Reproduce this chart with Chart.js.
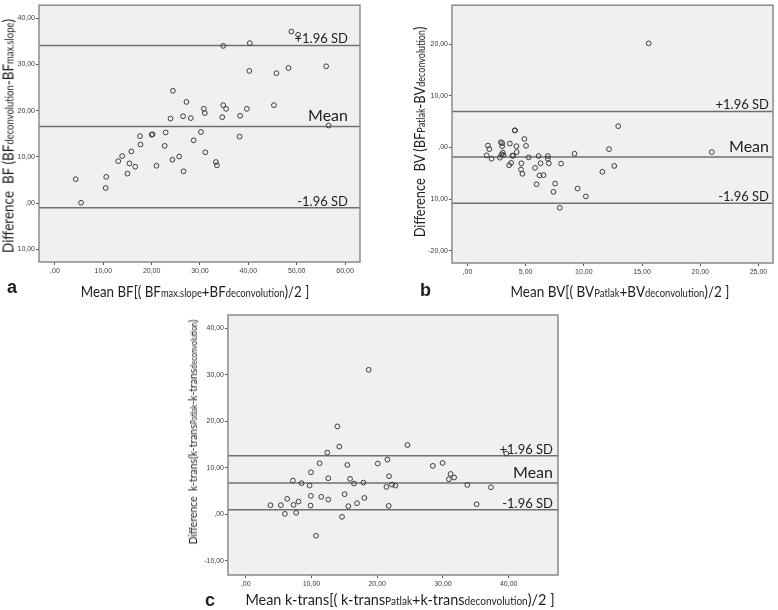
<!DOCTYPE html>
<html>
<head>
<meta charset="utf-8">
<script src="https://cdn.jsdelivr.net/npm/chart.js@4"></script>
<style>
  body { margin: 0; background: #fff; }
  #figure { position: relative; width: 778px; height: 610px; overflow: hidden; font-family: Lato, "Open Sans", sans-serif; color: #1e1e1e; }
  .panel { position: absolute; }
  .xtitle, .ytitle, .letter { position: absolute; white-space: nowrap; line-height: 1; }
  .xtitle { transform: translate(-50%, -50%) scaleX(var(--sx)); font-size: 15px; }
  .ytitle { transform: translate(-50%, -50%) rotate(-90deg) scaleX(var(--sx)); font-size: 15px; }
  .s { font-size: 10.5px; }
  .ytitle.small { font-size: 12px; }
  .ytitle.small .s { font-size: 8.5px; }
  .letter { font-family: "Liberation Sans", Arial, sans-serif; font-weight: bold; font-size: 18px; transform: translateY(-50%); }
</style>
</head>
<body>
<div id="figure">
  <div class="panel" style="left:0;top:0"><canvas id="chartA" width="380" height="300"></canvas></div>
  <div class="panel" style="left:380px;top:0"><canvas id="chartB" width="398" height="300"></canvas></div>
  <div class="panel" style="left:180px;top:300px"><canvas id="chartC" width="400" height="310"></canvas></div>

  <div class="ytitle" style="left:8px;top:136px;--sx:0.9">Difference&nbsp; BF (BF<span class="s">deconvolution</span>-BF<span class="s">max.slope</span>)</div>
  <div class="xtitle" style="left:195px;top:291px;--sx:0.89">Mean BF[( BF<span class="s">max.slope</span>+BF<span class="s">deconvolution</span>)/2 ]</div>
  <div class="letter" style="left:7px;top:287px">a</div>

  <div class="ytitle" style="left:419px;top:132px;--sx:0.86">Difference&nbsp; BV (BF<span class="s">Patlak</span>-BV<span class="s">deconvolution</span>)</div>
  <div class="xtitle" style="left:620px;top:291px;--sx:0.9">Mean BV[( BV<span class="s">Patlak</span>+BV<span class="s">deconvolution</span>)/2 ]</div>
  <div class="letter" style="left:420px;top:290px">b</div>

  <div class="ytitle small" style="left:193px;top:432px;--sx:0.87">Difference&nbsp; k-trans(k-trans<span class="s">Patlak</span>-k-trans<span class="s">deconvolution</span>)</div>
  <div class="xtitle" style="left:400px;top:599px;--sx:0.96">Mean k-trans[( k-trans<span class="s">Patlak</span>+k-trans<span class="s">deconvolution</span>)/2 ]</div>
  <div class="letter" style="left:205px;top:600px">c</div>
</div>

<script>
// Panel a: BF
const bfMean = [4.3, 5.4, 10.6, 10.5, 13.1, 13.9, 15.0, 15.4, 15.8, 16.6, 17.6, 17.7, 20.0, 20.2, 21.0, 22.7, 22.9, 23.9,
  24.4, 24.3, 25.7, 26.5, 26.6, 27.2, 28.1, 28.7, 30.2, 30.8, 31.0, 31.1, 33.3, 33.5, 34.6, 34.8, 35.4, 34.8,
  38.3, 38.2, 39.7, 40.2, 40.3, 45.3, 45.8, 48.3, 48.9, 50.3, 56.1, 56.6];
const bfDiff = [5.2, 0.1, 5.7, 3.3, 9.1, 10.2, 6.4, 8.6, 11.2, 7.9, 14.5, 12.7, 14.8, 14.9, 8.1, 12.4, 15.3, 18.3,
  24.3, 9.4, 10.1, 18.8, 6.9, 21.9, 18.4, 13.6, 15.4, 20.4, 19.5, 11.0, 8.9, 8.2, 18.6, 21.2, 20.4, 34.0,
  18.9, 14.4, 20.4, 28.6, 34.6, 21.2, 28.1, 29.2, 37.1, 36.4, 29.6, 16.8];
const bfLimits = [34.1, 16.6, -1.0];
const bfXTicks = [0, 10, 20, 30, 40, 50, 60];
const bfXTickLabels = [",00", "10,00", "20,00", "30,00", "40,00", "50,00", "60,00"];
const bfYTicks = [40, 30, 20, 10, 0, -10];
const bfYTickLabels = ["40,00", "30,00", "20,00", "10,00", ",00", "10,00"];

// Panel b: BV
const bvMean = [1.65, 1.76, 1.88, 2.07, 2.78, 2.87, 2.98, 2.98, 2.93, 3.04, 3.10, 3.64, 3.75, 3.58, 3.86, 3.92,
  4.06, 4.08, 4.20, 4.23, 4.89, 5.03, 4.63, 4.60, 4.72, 5.26, 5.80, 5.94, 6.11, 6.28, 6.19, 6.53, 6.90, 6.90,
  6.99, 7.39, 7.53, 7.93, 8.04, 9.20, 9.46, 10.17, 11.59, 12.16, 12.61, 12.95, 15.57, 20.99];
const bvDiff = [-1.53, 0.38, -0.32, -2.17, -1.97, 1.02, 0.83, 0.25, -1.34, -1.02, -1.46, 0.76, -2.99, -3.44, -1.59, -1.59,
  3.31, 3.33, 0.25, -0.89, 1.66, 0.32, -3.06, -4.27, -5.10, -1.91, -3.95, -7.13, -1.66, -3.06, -5.41, -5.35, -1.66, -2.17,
  -3.06, -8.60, -7.00, -11.70, -3.12, -1.21, -7.96, -9.49, -4.71, -0.32, -3.57, 4.14, 20.20, -0.89];
const bvLimits = [7.0, -1.85, -10.8];
const bvXTicks = [0, 5, 10, 15, 20, 25];
const bvXTickLabels = [",00", "5,00", "10,00", "15,00", "20,00", "25,00"];
const bvYTicks = [20, 10, 0, -10, -20];
const bvYTickLabels = ["20,00", "10,00", ",00", "10,00", "-20,00"];

// Panel c: k-trans
const ktMean = [3.76, 5.34, 5.95, 6.30, 7.17, 7.27, 7.67, 8.03, 8.49, 9.71, 9.91, 9.91, 9.86, 10.67, 11.23, 11.49,
  12.40, 12.55, 12.55, 13.93, 14.23, 14.64, 15.04, 15.45, 15.60, 15.86, 16.47, 16.92, 17.90, 18.04, 18.70, 20.08,
  21.40, 21.55, 21.80, 21.75, 22.26, 22.77, 24.60, 28.46, 29.94, 30.90, 31.16, 31.70, 33.70, 35.12, 37.30, 39.64];
const ktDiff = [1.94, 1.94, 0.07, 3.30, 7.24, 2.00, 0.29, 2.72, 6.67, 6.16, 9.03, 3.94, 1.86, -4.66, 10.97, 3.73,
  13.26, 7.74, 3.15, 18.90, 14.55, -0.57, 4.30, 10.60, 1.72, 7.60, 6.60, 2.37, 6.80, 3.50, 31.10, 10.90,
  5.88, 11.76, 8.17, 1.79, 6.38, 6.16, 14.90, 10.40, 11.04, 7.53, 8.67, 7.90, 6.30, 2.15, 5.80, 13.05];
const ktLimits = [12.6, 6.7, 0.93];
const ktXTicks = [0, 10, 20, 30, 40];
const ktXTickLabels = [",00", "10,00", "20,00", "30,00", "40,00"];
const ktYTicks = [40, 30, 20, 10, 0, -10];
const ktYTickLabels = ["40,00", "30,00", "20,00", "10,00", ",00", "-10,00"];

const limitLabels = ["+1.96 SD", "Mean", "-1.96 SD"];

// Plot frame, grey background and limit labels
const framePlugin = {
  id: "frame",
  beforeDraw(chart) {
    const { ctx, chartArea: a } = chart;
    ctx.save();
    ctx.fillStyle = "#f0f0f0";
    ctx.fillRect(a.left, a.top, a.right - a.left, a.bottom - a.top);
    ctx.restore();
  },
  afterDraw(chart, args, opts) {
    const { ctx, chartArea: a } = chart;
    const yScale = chart.scales.y;
    ctx.save();
    ctx.strokeStyle = "#8a8a8a";
    ctx.lineWidth = 1.5;
    ctx.strokeRect(a.left, a.top, a.right - a.left, a.bottom - a.top);

    ctx.fillStyle = "#1e1e1e";
    ctx.textAlign = "right";
    ctx.textBaseline = "alphabetic";
    opts.limits.forEach((v, i) => {
      const big = limitLabels[i] === "Mean";
      ctx.font = (big ? "16px" : "13px") + " Lato, 'Open Sans', sans-serif";
      ctx.fillText(limitLabels[i], a.right - opts.inset, yScale.getPixelForValue(v) - (big ? 5 : 2));
    });
    ctx.restore();
  }
};

function tickAxis(ticks, labels, range, fitSize, isX) {
  return {
    type: "linear",
    min: range[0],
    max: range[1],
    afterBuildTicks: (scale) => { scale.ticks = ticks.map(v => ({ value: v })); },
    afterFit: (scale) => { if (isX) scale.height = fitSize; else scale.width = fitSize; },
    ticks: {
      autoSkip: false,
      maxRotation: 0,
      padding: isX ? 2 : 1,
      color: "#3a3a3a",
      font: { size: 7, family: "'Liberation Sans', Arial, sans-serif" },
      callback: (v) => { const i = ticks.indexOf(v); return i >= 0 ? labels[i] : ""; }
    },
    grid: { display: true, drawOnChartArea: false, drawTicks: true, tickLength: 3, tickColor: "#555", color: "#555" },
    border: { display: false }
  };
}

function makeBlandAltman(id, p) {
  const points = p.mean.map((m, i) => ({ x: m, y: p.diff[i] }));
  const lines = p.limits.map(v => ({
    data: [{ x: p.xRange[0], y: v }, { x: p.xRange[1], y: v }],
    showLine: true,
    borderColor: "#707070",
    borderWidth: 1.5,
    pointRadius: 0
  }));

  new Chart(document.getElementById(id), {
    type: "scatter",
    data: {
      datasets: [{
        data: points,
        pointStyle: "circle",
        pointRadius: 2.4,
        borderWidth: 1,
        borderColor: "#3c3c3c",
        backgroundColor: "rgba(0,0,0,0)"
      }, ...lines]
    },
    options: {
      responsive: false,
      animation: false,
      layout: { padding: { top: p.pad[0], right: p.pad[1], bottom: 0, left: 0 } },
      scales: {
        x: tickAxis(p.xTicks, p.xLabels, p.xRange, p.xHeight, true),
        y: tickAxis(p.yTicks, p.yLabels, p.yRange, p.yWidth, false)
      },
      plugins: {
        legend: { display: false },
        tooltip: { enabled: false },
        frame: { limits: p.limits, inset: p.inset }
      }
    },
    plugins: [framePlugin]
  });
}

makeBlandAltman("chartA", {
  mean: bfMean, diff: bfDiff, limits: bfLimits,
  xTicks: bfXTicks, xLabels: bfXTickLabels, yTicks: bfYTicks, yLabels: bfYTickLabels,
  xRange: [-3.3, 63.1], yRange: [-12.7, 42.8],
  pad: [3, 20], yWidth: 39, xHeight: 38, inset: 12
});

makeBlandAltman("chartB", {
  mean: bvMean, diff: bvDiff, limits: bvLimits,
  xTicks: bvXTicks, xLabels: bvXTickLabels, yTicks: bvYTicks, yLabels: bvYTickLabels,
  xRange: [-1.33, 26.25], yRange: [-22.4, 27.6],
  pad: [1, 3], yWidth: 72, xHeight: 37, inset: 4
});

makeBlandAltman("chartC", {
  mean: ktMean, diff: ktDiff, limits: ktLimits,
  xTicks: ktXTicks, xLabels: ktXTickLabels, yTicks: ktYTicks, yLabels: ktYTickLabels,
  xRange: [-2.7, 47.5], yRange: [-13.1, 42.9],
  pad: [15, 22], yWidth: 48, xHeight: 35, inset: 5
});
</script>
</body>
</html>
